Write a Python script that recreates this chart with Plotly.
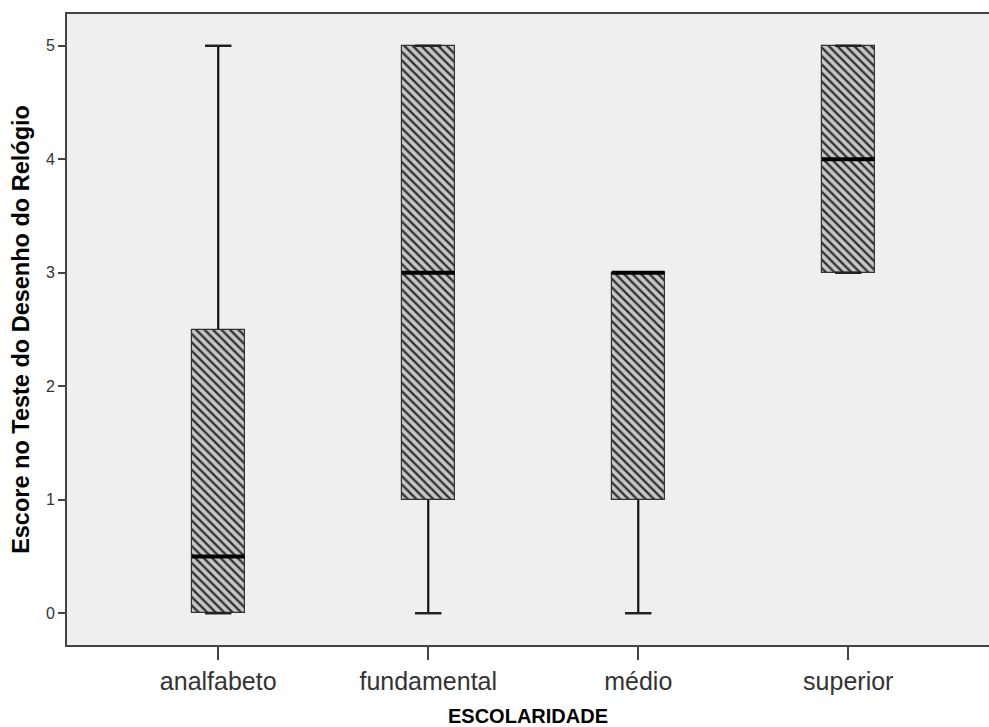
import plotly.graph_objects as go

categories = ["analfabeto", "fundamental", "médio", "superior"]
mins = [0, 0, 0, 3]
q1s = [0, 1, 1, 3]
medians = [0.5, 3, 3, 4]
q3s = [2.5, 5, 3, 5]
maxs = [5, 5, 3, 5]
y_ticks = [0, 1, 2, 3, 4, 5]

pos = list(range(len(categories)))
box_w = 0.252
cap_half = box_w / 4

fig = go.Figure()

# hatched boxes (Q1..Q3)
fig.add_trace(go.Bar(
    x=pos, y=[b - a for a, b in zip(q1s, q3s)], base=q1s, width=box_w,
    marker=dict(
        color="#c8c8c8",
        line=dict(color="#333333", width=1.2),
        pattern=dict(shape="\\", fgcolor="#333333", bgcolor="#c8c8c8",
                     size=6, solidity=0.4, fillmode="replace"),
    ),
    hoverinfo="skip", showlegend=False,
))

# whiskers
wx, wy = [], []
for p, lo, a, b, hi in zip(pos, mins, q1s, q3s, maxs):
    wx += [p, p, None, p, p, None]
    wy += [lo, a, None, b, hi, None]
fig.add_trace(go.Scatter(x=wx, y=wy, mode="lines",
                         line=dict(color="#111111", width=2.2),
                         hoverinfo="skip", showlegend=False))
# caps
cx, cy = [], []
for p, lo, hi in zip(pos, mins, maxs):
    cx += [p - cap_half, p + cap_half, None, p - cap_half, p + cap_half, None]
    cy += [lo, lo, None, hi, hi, None]
fig.add_trace(go.Scatter(x=cx, y=cy, mode="lines",
                         line=dict(color="#222222", width=2.5),
                         hoverinfo="skip", showlegend=False))
# medians
mx, my = [], []
for p, m in zip(pos, medians):
    mx += [p - box_w / 2, p + box_w / 2, None]
    my += [m, m, None]
fig.add_trace(go.Scatter(x=mx, y=my, mode="lines",
                         line=dict(color="#000000", width=4),
                         hoverinfo="skip", showlegend=False))

fig.update_layout(
    width=989, height=727,
    margin=dict(l=67, r=0, t=14, b=82),
    paper_bgcolor="white",
    plot_bgcolor="#efefef",
    font=dict(family="Liberation Sans, Arial, sans-serif", color="#333333"),
    bargap=0,
)
fig.update_xaxes(
    range=[-0.72, 3.67], automargin=False,
    tickmode="array", tickvals=pos, ticktext=categories,
    tickfont=dict(size=25, color="#333333"),
    ticks="outside", ticklen=13, tickwidth=2, tickcolor="#444444",
    showline=True, linecolor="#444444", linewidth=2, mirror=True,
    showgrid=False, zeroline=False,
    title=dict(text="<b>ESCOLARIDADE</b>", font=dict(size=20, color="#000000"), standoff=15),
)
fig.update_yaxes(
    range=[-0.28, 5.28], automargin=False,
    tickmode="array", tickvals=y_ticks,
    tickfont=dict(size=16, color="#333333"),
    ticks="outside", ticklen=7, tickwidth=2, tickcolor="#444444",
    showline=True, linecolor="#444444", linewidth=2,
    showgrid=False, zeroline=False,
    title=dict(text="<b>Escore no Teste do Desenho do Relógio</b>", font=dict(size=23.5, color="#000000"), standoff=10),
)

fig.write_html("out.html", config={"displayModeBar": False},
               post_script="document.body.style.margin='0';document.body.style.padding='0';")
